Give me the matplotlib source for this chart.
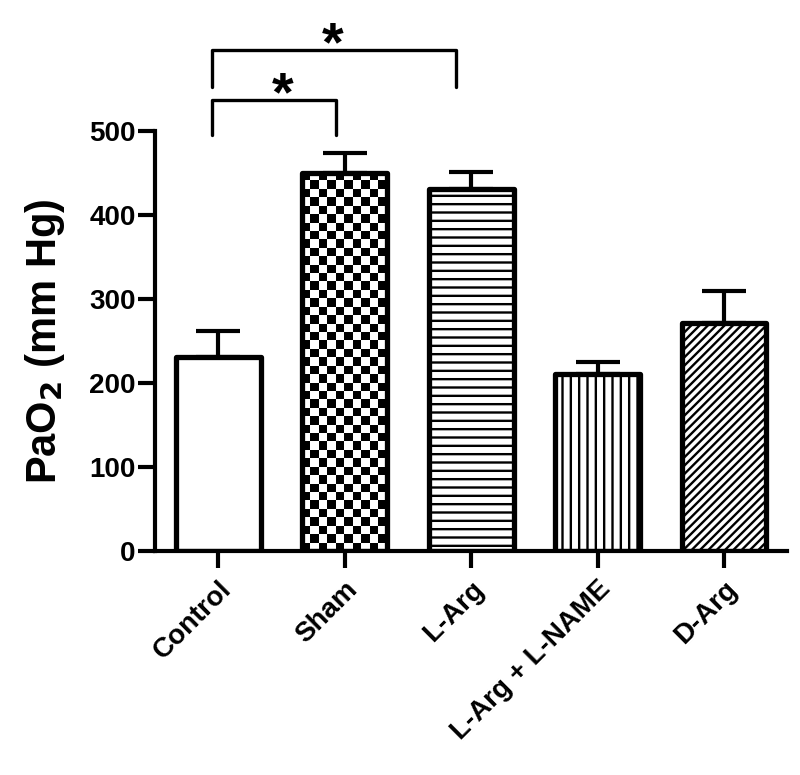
import numpy as np
import matplotlib
matplotlib.use('Agg')
import matplotlib.pyplot as plt

matplotlib.rcParams['font.family'] = ['Liberation Sans', 'DejaVu Sans']
matplotlib.rcParams['font.weight'] = 'bold'
matplotlib.rcParams['hatch.linewidth'] = 1.7

groups = ['Control', 'Sham', 'L-Arg', 'L-Arg + L-NAME', 'D-Arg']
means = [231, 450, 431, 211, 272]
sems = [31, 24, 20, 14, 37]
hatches = ['', 'checker', '--', '||', '////']
# significance brackets: (left x, right x, star x, bar height, leg bottom)
brackets = [(-0.05, 0.93, 0.51, 537, 495), (-0.05, 1.88, 0.90, 596, 552)]

fig = plt.figure(figsize=(8, 7.75), dpi=100)
ax = fig.add_axes([0.194, 0.289, 0.79, 0.542])

x = np.arange(len(groups))
width = 0.67
lw = 3.8

ax.errorbar(x, means, yerr=[np.zeros(len(sems)), sems], fmt='none', ecolor='black',
            elinewidth=3, capsize=16, capthick=3, zorder=1)
faces = ['none' if h == 'checker' else 'white' for h in hatches]
bars = ax.bar(x, means, width=width, color=faces, edgecolor='black', linewidth=lw, zorder=2)
for b, h in zip(bars, hatches):
    b.set_joinstyle('round')
    if h == 'checker':
        # checkerboard fill clipped to the bar
        nx, ny = 10, int(round(b.get_height() / 10))
        ii, jj = np.indices((ny, nx))
        img = ((ii + jj) % 2).astype(float)
        im = ax.imshow(img, cmap='gray', interpolation='nearest', aspect='auto',
                       extent=[b.get_x(), b.get_x() + b.get_width(), 0, b.get_height()],
                       zorder=1.5, vmin=0, vmax=1)
        im.set_clip_path(b)
    elif h:
        b.set_hatch(h)

ax.set_xlim(-0.5, 4.5)
ax.set_ylim(0, 500)
ax.set_yticks([0, 100, 200, 300, 400, 500])
ax.set_xticks(x)
ax.set_xticklabels(groups, rotation=45, ha='right', rotation_mode='anchor', fontsize=20, fontweight='bold')
ax.tick_params(axis='y', labelsize=20, width=3, length=12, pad=2)
ax.tick_params(axis='x', width=3, length=12, pad=6)
for t in ax.get_yticklabels():
    t.set_fontweight('bold')
ax.spines['top'].set_visible(False)
ax.spines['right'].set_visible(False)
ax.spines['left'].set_linewidth(3)
ax.spines['bottom'].set_linewidth(3)
ax.set_ylabel('PaO$_\\mathbf{2}$ (mm Hg)', fontsize=30, fontweight='bold', labelpad=16)

for xa, xb, xs, top, leg in brackets:
    ax.plot([xa, xa, xb, xb], [leg, top, top, leg], color='black', lw=2.4, clip_on=False,
            solid_capstyle='round')
    ax.text(xs, top - 12, '*', ha='center', va='baseline', fontsize=40, fontweight='bold',
            clip_on=False)

fig.savefig('out.png', dpi=100)
